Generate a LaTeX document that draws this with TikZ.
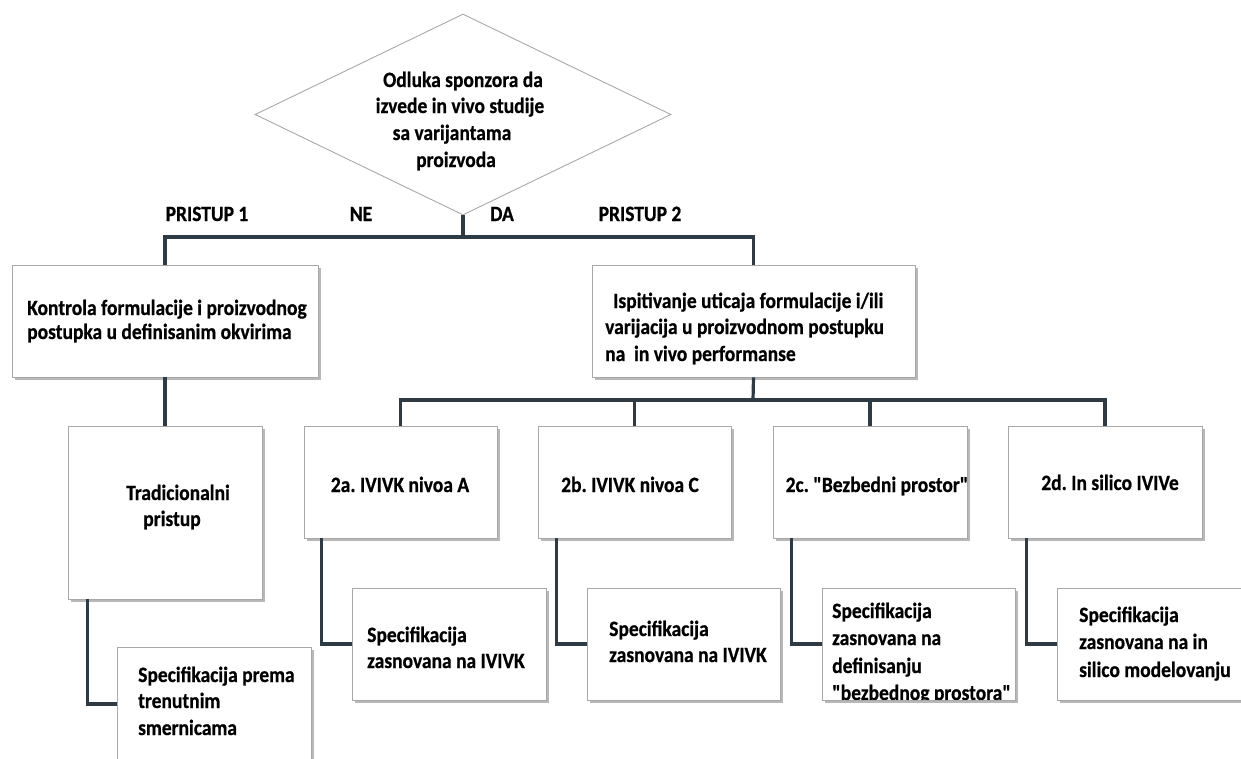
\documentclass[tikz,border=0pt]{standalone}
\usepackage{fontspec}
\newfontfamily\carl{Carlito}[BoldFeatures={FakeBold=0.7}]
\usetikzlibrary{shapes.geometric,shadows}

\definecolor{linkcol}{HTML}{2E3B45}
\definecolor{edgecol}{HTML}{A8A8A8}

\tikzset{
  x=1pt, y=-1pt,
  box/.style={draw=edgecol, line width=0.9pt, fill=white, inner sep=0pt,
    drop shadow={shadow xshift=2.5pt, shadow yshift=-2.5pt, fill=black, opacity=0.28}},
  decision/.style={shape=diamond, draw=edgecol, line width=0.9pt, fill=white,
    inner sep=0pt, aspect=2.07},
  txt/.style={inner sep=0pt, font=\carl\fontsize{19.5}{24}\selectfont\bfseries\frenchspacing, text=black},
  link/.style={draw=linkcol, line width=3.2pt},
}

% slightly tall lettering
\newcommand{\tl}[1]{\scalebox{1}[1.12]{#1}}

% \boxat{name}{left}{top}{right}{bottom}
\newcommand{\boxat}[5]{%
  \node[box, minimum width={(#4-#2)*1pt}, minimum height={(#5-#3)*1pt}]
    (#1) at ({(#2+#4)/2},{(#3+#5)/2}) {};}

\begin{document}
\begin{tikzpicture}
\useasboundingbox[fill=white] (0,0) rectangle (1241,758);

% decision
\node[decision, minimum width=416pt, minimum height=201pt] (dec) at (463,114.5) {};
\node[txt, anchor=base] (d1) at (463,87) {\tl{Odluka sponzora da}};
\node[txt, anchor=base] (d2) at (460,113) {\tl{izvede in vivo studije}};
\node[txt, anchor=base] (d3) at (452,140) {\tl{sa varijantama}};
\node[txt, anchor=base] (d4) at (456,167) {\tl{proizvoda}};

% branch labels
\node[txt, anchor=base] (p1) at (207,221) {\tl{PRISTUP 1}};
\node[txt, anchor=base] (ne) at (361,221) {\tl{NE}};
\node[txt, anchor=base] (da) at (502,221) {\tl{DA}};
\node[txt, anchor=base] (p2) at (640,221) {\tl{PRISTUP 2}};

% boxes
\boxat{kon}{12}{265}{318}{377}
\boxat{isp}{592}{265}{915}{377}
\boxat{tra}{68}{426}{262}{599}
\boxat{s1}{117}{647}{311}{761}
\boxat{ba}{304}{426}{497}{538}
\boxat{bb}{538}{426}{731}{538}
\boxat{bc}{773}{426}{967}{538}
\boxat{bd}{1008}{426}{1202}{538}
\boxat{sa}{352}{588}{546}{700}
\boxat{sb}{587}{588}{780}{700}
\boxat{sc}{822}{588}{1015}{700}
\boxat{sd}{1057}{588}{1260}{700}

% connectors
\coordinate (j1) at (463,237);
\coordinate (j2) at (753,400);
\draw[link] (dec.south) -- (j1);
\draw[link] (kon.north) |- (j1) -| (isp.north);
\draw[link] (kon.south) -- (tra.north);
\draw[link] (isp.south) -- (j2);
\draw[link] (ba.north) -- (ba.north |- j2) -- (bd.north |- j2) -- (bd.north);
\draw[link] (bb.north) -- (bb.north |- j2);
\draw[link] (bc.north) -- (bc.north |- j2);
\draw[link] ([xshift=20pt]tra.south west) |- (s1.west);
\draw[link] ([xshift=18pt]ba.south west) |- (sa.west);
\draw[link] ([xshift=19pt]bb.south west) |- (sb.west);
\draw[link] ([xshift=19pt]bc.south west) |- (sc.west);
\draw[link] ([xshift=19pt]bd.south west) |- (sd.west);

% box texts
\node[txt, anchor=base west] (k1) at (27,315) {\tl{Kontrola formulacije i proizvodnog}};
\node[txt, anchor=base west] (k2) at (27,339) {\tl{postupka u definisanim okvirima}};

\node[txt, anchor=base west] (i1) at (613,308) {\tl{Ispitivanje uticaja formulacije i/ili}};
\node[txt, anchor=base west] (i2) at (605,334) {\tl{varijacija u proizvodnom postupku}};
\node[txt, anchor=base west] (i3) at (605,361) {\tl{na\hspace{0.45em}in vivo performanse}};

\node[txt, anchor=base] (t1) at (178,500) {\tl{Tradicionalni}};
\node[txt, anchor=base] (t2) at (172,526) {\tl{pristup}};

\node[txt, anchor=base west] (r1) at (138,682) {\tl{Specifikacija prema}};
\node[txt, anchor=base west] (r2) at (138,708) {\tl{trenutnim}};
\node[txt, anchor=base west] (r3) at (138,735) {\tl{smernicama}};

\node[txt, anchor=base] (a1) at (400,492) {\tl{2a. IVIVK nivoa A}};
\node[txt, anchor=base] (b1) at (630,492) {\tl{2b. IVIVK nivoa C}};
\node[txt, anchor=base] (c1) at (877,492) {\tl{2c. "Bezbedni prostor"}};
\node[txt, anchor=base] (e1) at (1110,490) {\tl{2d. In silico IVIVe}};

\node[txt, anchor=base west] (sa1) at (367,642) {\tl{Specifikacija}};
\node[txt, anchor=base west] (sa2) at (367,668) {\tl{zasnovana na IVIVK}};

\node[txt, anchor=base west] (sb1) at (609,636) {\tl{Specifikacija}};
\node[txt, anchor=base west] (sb2) at (609,662) {\tl{zasnovana na IVIVK}};

\begin{scope}
  \clip (sc.north west) rectangle ([yshift=1pt]sc.south east);
  \node[txt, anchor=base west] (sc1) at (832,618) {\tl{Specifikacija}};
  \node[txt, anchor=base west] (sc2) at (832,645) {\tl{zasnovana na}};
  \node[txt, anchor=base west] (sc3) at (832,673) {\tl{definisanju}};
  \node[txt, anchor=base west] (sc4) at (832,700) {\tl{"bezbednog prostora"}};
\end{scope}

\node[txt, anchor=base west] (sd1) at (1079,622) {\tl{Specifikacija}};
\node[txt, anchor=base west] (sd2) at (1079,649) {\tl{zasnovana na in}};
\node[txt, anchor=base west] (sd3) at (1079,677) {\tl{silico modelovanju}};
\end{tikzpicture}
\end{document}
